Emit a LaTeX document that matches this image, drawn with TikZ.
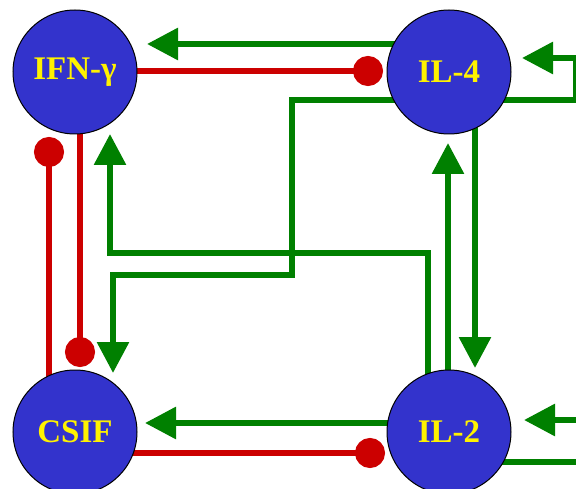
\documentclass[tikz,border=0pt]{standalone}
\usepackage{fontspec}
\setmainfont{Liberation Serif}
\usetikzlibrary{arrows.meta,calc,backgrounds}
\definecolor{cytoblue}{HTML}{3333CC}
\definecolor{actgreen}{HTML}{008000}
\definecolor{inhred}{HTML}{CC0000}
\begin{document}
\begin{tikzpicture}[x=1pt,y=-1pt,
  cyto/.style={shape=circle,draw=black,line width=1pt,fill=cytoblue,minimum size=124pt,inner sep=0pt,text=yellow,font=\bfseries\fontsize{33}{36}\selectfont},
  act/.style={draw=actgreen,line width=6pt,-{Triangle[length=31pt,width=31pt]}},
  inh/.style={draw=inhred,line width=6pt,-{Circle[length=30pt]}}]
\useasboundingbox (0,0) rectangle (576,489);
\clip (0,0) rectangle (576,489);

%draw cytokine nodes
\node [cyto] at (75,72) (ifn) {IFN-γ};
\node [cyto] at (449,72) (il4) {IL-4};
\node [cyto] at (75,432) (csif) {CSIF};
\node [cyto] at (449,432) (il2) {IL-2};

\begin{scope}[on background layer]
%green arrows (activation)
\draw [act] ($(il4)+(0,-28)$) -- ($(ifn)+(72,-28)$);
\draw [act] ($(il4)+(0,28)$) -| ($(il4)+(127,-14)$) -- ($(il4)+(73,-14)$);
\draw [act] ($(il4)+(0,28)$) -| ($(csif)+(217,-157)$) -| ($(csif)+(38,-59)$);
\draw [act] ($(il2)+(-21,0)$) |- ($(ifn)+(35,181)$) -- ($(ifn)+(35,62)$);
\draw [act] ($(il2)+(-1,0)$) -- ($(il4)+(-1,71)$);
\draw [act] ($(il4)+(26,0)$) -- ($(il2)+(26,-64)$);
\draw [act] ($(il2)+(0,-9)$) -- ($(csif)+(70,-9)$);
\draw [act] ($(il2)+(0,30)$) -| ($(il2)+(131,-12)$) -- ($(il2)+(75,-12)$);

%red lines (inhibition)
\draw [inh] ($(ifn)+(0,-1)$) -- ($(il4)+(-66,-1)$);
\draw [inh] ($(csif)+(-26,0)$) -- ($(ifn)+(-26,65)$);
\draw [inh] ($(ifn)+(5,0)$) -- ($(csif)+(5,-65)$);
\draw [inh] ($(csif)+(0,21)$) -- ($(il2)+(-64,21)$);
\end{scope}
\end{tikzpicture}
\end{document}
